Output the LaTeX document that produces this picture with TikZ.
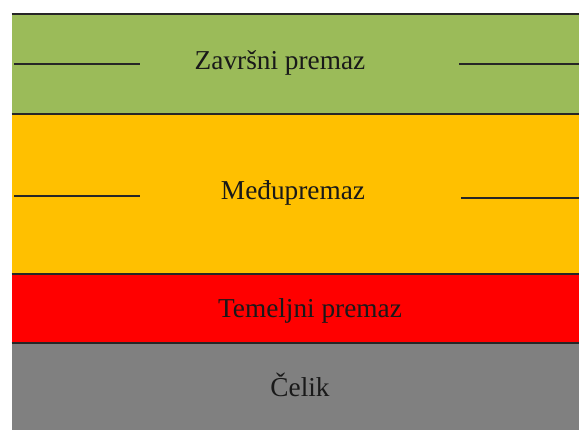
\documentclass[tikz,border=0pt]{standalone}
\usepackage{fontspec}
\setmainfont{Liberation Serif}
\definecolor{layergreen}{HTML}{9BBB59}
\definecolor{layerorange}{HTML}{FFC000}
\definecolor{layerred}{HTML}{FF0000}
\definecolor{layergray}{HTML}{808080}
\tikzset{
  label/.style={inner sep=0pt, anchor=base, text=black!90, font=\fontsize{27.3}{30}\selectfont},
  border/.style={draw=black!85, line width=2pt},
  marker/.style={draw=black!85, line width=2pt}
}
\begin{document}
\begin{tikzpicture}[x=1pt,y=-1pt]
\useasboundingbox (0,0) rectangle (579,430);
\fill[white] (0,0) rectangle (579,430);
% layers
\fill[layergreen]  (11.5,14.5) rectangle (579,114.5);
\fill[layerorange] (11.5,114.5) rectangle (579,274);
\fill[layerred]    (11.5,274) rectangle (579,343.5);
\fill[layergray]   (11.5,343.5) rectangle (579,430);
% coordinates for boundaries
\coordinate (b0l) at (11.5,14.5);  \coordinate (b0r) at (579,14.5);
\coordinate (b1l) at (11.5,114.5); \coordinate (b1r) at (579,114.5);
\coordinate (b2l) at (11.5,274);   \coordinate (b2r) at (579,274);
\coordinate (b3l) at (11.5,343.5); \coordinate (b3r) at (579,343.5);
\draw[border] (b0l) -- (b0r);
\draw[border] (b1l) -- (b1r);
\draw[border] (b2l) -- (b2r);
\draw[border] (b3l) -- (b3r);
% marker lines
\coordinate (m1a) at (14,64.5);  \coordinate (m1b) at (140,64.5);
\coordinate (m2a) at (459,64.5); \coordinate (m2b) at (579,64.5);
\coordinate (m3a) at (14,195.7); \coordinate (m3b) at (140,195.7);
\coordinate (m4a) at (461,198);  \coordinate (m4b) at (579,198);
\draw[marker] (m1a) -- (m1b);
\draw[marker] (m2a) -- (m2b);
\draw[marker] (m3a) -- (m3b);
\draw[marker] (m4a) -- (m4b);
% labels
\node[label] (zav) at (280,69.3) {Završni premaz};
\node[label] (med) at (293,200) {Međupremaz};
\node[label] (tem) at (310,318) {Temeljni premaz};
\node[label] (cel) at (300,396.7) {Čelik};
\end{tikzpicture}
\end{document}
